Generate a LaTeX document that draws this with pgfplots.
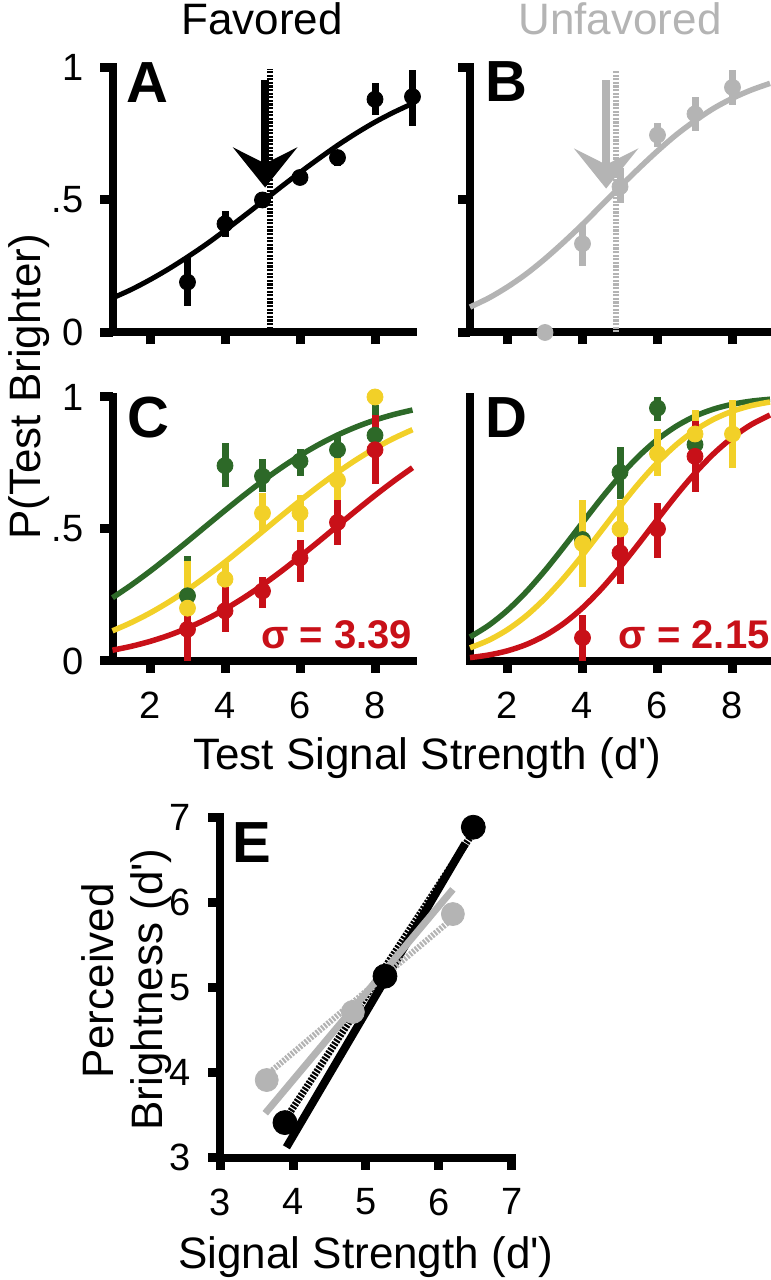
\documentclass[border=0pt]{standalone}
\usepackage{fontspec}
\setmainfont{Liberation Sans}
\usepackage{pgfplots}
\pgfplotsset{compat=1.18}
\usetikzlibrary{arrows.meta}
\definecolor{fgray}{RGB}{180,180,180}
\definecolor{fgreen}{RGB}{45,105,40}
\definecolor{fyellow}{RGB}{242,208,40}
\definecolor{fred}{RGB}{200,16,24}
\pgfplotsset{
  fig/.style={
    scale only axis, anchor=south west, clip=false,
    axis lines=left,
    axis line style={line width=4pt, -, line cap=rect},
    tick align=outside,
    major tick length=6pt,
    tick style={line width=4.5pt, black},
    tick label style={font=\fontsize{19}{19}\selectfont},
    xticklabel style={yshift=-6pt},
    yticklabel style={xshift=-5pt},
    /pgf/number format/assume math mode=true,
    xmin=1, xmax=9, ymin=0, ymax=1,
    xtick={2,4,6,8}, ytick={0,0.5,1},
    yticklabels={0,.5,1},
  },
  ebar/.style={only marks, mark=*, mark size=4pt,
    error bars/.cd, y dir=both, y explicit, error mark=none,
    error bar style={line width=3.5pt, #1}},
  fit/.style={#1, line width=2.75pt, smooth},
  ladder/.style={line width=3pt, dash pattern=on 1.1pt off 0.7pt},
}
\begin{document}
\begin{tikzpicture}
\path[use as bounding box] (0,0) rectangle (385.5pt,640pt);
% ---------- A ----------
\begin{axis}[fig, at={(56.25pt,473.75pt)}, width=150pt, height=132.5pt, xticklabels={}]
\addplot[fit=black, line width=2.5pt] coordinates {(1,0.130)(1.5,0.162)(2,0.199)(2.5,0.240)(3,0.285)(3.5,0.333)(4,0.385)(4.5,0.439)(5,0.494)(5.5,0.550)(6,0.604)(6.5,0.656)(7,0.706)(7.5,0.752)(8,0.794)(8.5,0.831)(9,0.864)};
\addplot[black, ebar=black] coordinates {
 (3,0.19) +- (0,0.09)
 (4,0.41) +- (0,0.05)
 (5,0.50) +- (0,0.03)
 (6,0.585) +- (0,0.03)
 (7,0.66) +- (0,0.03)
 (8,0.88) +- (0,0.06)
 (9,0.89) += (0,0.10) -= (0,0.11)};
\addplot[black, line width=4pt, -{Stealth[length=20pt, width=32pt, inset=8pt]}] coordinates {(5.07,0.951)(5.07,0.547)};
\addplot[black, ladder] coordinates {(5.2,0)(5.2,0.996)};
\end{axis}
% ---------- B ----------
\begin{axis}[fig, at={(235pt,473.75pt)}, width=150pt, height=132.5pt, xticklabels={}, yticklabels={}]
\addplot[fit=fgray] coordinates {(1,0.096)(1.5,0.130)(2,0.172)(2.5,0.221)(3,0.278)(3.5,0.341)(4,0.408)(4.5,0.479)(5,0.550)(5.5,0.619)(6,0.685)(6.5,0.746)(7,0.799)(7.5,0.846)(8,0.884)(8.5,0.915)(9,0.940)};
\addplot[fgray, ebar=fgray] coordinates {
 (3,0.0) +- (0,0)
 (4,0.335) += (0,0.075) -= (0,0.085)
 (5,0.55) += (0,0.07) -= (0,0.06)
 (6,0.745) +- (0,0.045)
 (7,0.825) +- (0,0.065)
 (8,0.925) +- (0,0.065)};
\addplot[fgray, line width=4pt, -{Stealth[length=20pt, width=32pt, inset=8pt]}] coordinates {(4.63,0.951)(4.63,0.543)};
\addplot[fgray, ladder] coordinates {(4.89,0)(4.89,0.99)};
\end{axis}
% ---------- C ----------
\begin{axis}[fig, at={(56.25pt,309.5pt)}, width=150pt, height=132pt]
\addplot[fit=fgreen] coordinates {(1,0.2395)(1.5,0.2877)(2,0.3398)(2.5,0.3955)(3,0.4530)(3.5,0.5118)(4,0.5702)(4.5,0.6272)(5,0.6815)(5.5,0.7321)(6,0.7785)(6.5,0.8197)(7,0.8559)(7.5,0.8867)(8,0.9126)(8.5,0.9337)(9,0.9507)};
\addplot[fgreen, ebar=fgreen] coordinates {
 (3,0.247) +- (0,0.15)
 (4,0.74) += (0,0.085) -= (0,0.08)
 (5,0.70) += (0,0.065) -= (0,0.06)
 (6,0.757) += (0,0.045) -= (0,0.055)
 (7,0.80) += (0,0.055) -= (0,0.06)
 (8,0.855) += (0,0.115) -= (0,0.095)};
\addplot[fit=fyellow] coordinates {(1,0.1143)(1.5,0.1455)(2,0.1817)(2.5,0.2233)(3,0.2697)(3.5,0.3206)(4,0.3749)(4.5,0.4321)(5,0.4904)(5.5,0.5493)(6,0.6069)(6.5,0.6624)(7,0.7143)(7.5,0.7624)(8,0.8054)(8.5,0.8435)(9,0.8762)};
\addplot[fyellow, ebar=fyellow] coordinates {
 (3,0.20) += (0,0.18) -= (0,0.10)
 (4,0.31) += (0,0.06) -= (0,0.04)
 (5,0.56) += (0,0.075) -= (0,0.07)
 (6,0.56) +- (0,0.07)
 (7,0.685) +- (0,0.085)
 (8,1.0) +- (0,0)};
\addplot[fit=fred] coordinates {(1,0.0409)(1.5,0.0556)(2,0.0742)(2.5,0.0971)(3,0.1250)(3.5,0.1579)(4,0.1962)(4.5,0.2395)(5,0.2877)(5.5,0.3398)(6,0.3955)(6.5,0.4530)(7,0.5118)(7.5,0.5702)(8,0.6272)(8.5,0.6815)(9,0.7321)};
\addplot[fred, ebar=fred] coordinates {
 (3,0.12) +- (0,0.12)
 (4,0.19) += (0,0.09) -= (0,0.08)
 (5,0.265) += (0,0.055) -= (0,0.065)
 (6,0.39) += (0,0.07) -= (0,0.09)
 (7,0.525) +- (0,0.085)
 (8,0.80) +- (0,0.13)};
\node[anchor=base east, inner sep=0pt, text=fred, font=\bfseries\fontsize{20}{20}\selectfont] at (axis cs:9,0.046) {σ = 3.39};
\end{axis}
% ---------- D ----------
\begin{axis}[fig, at={(235pt,309.5pt)}, width=150pt, height=132pt, ytick=\empty]
\addplot[fit=fgreen] coordinates {(1,0.0909)(1.5,0.1352)(2,0.1922)(2.5,0.2620)(3,0.3428)(3.5,0.4317)(4,0.5241)(4.5,0.6153)(5,0.7005)(5.5,0.7758)(6,0.8391)(6.5,0.8893)(7,0.9273)(7.5,0.9543)(8,0.9726)(8.5,0.9843)(9,0.9915)};
\addplot[fgreen, ebar=fgreen] coordinates {
 (4,0.46) +- (0,0.05)
 (5,0.715) += (0,0.095) -= (0,0.10)
 (6,0.958) += (0,0.042) -= (0,0.048)
 (7,0.82) +- (0,0.04)};
\addplot[fit=fyellow] coordinates {(1,0.0498)(1.5,0.0787)(2,0.1188)(2.5,0.1713)(3,0.2370)(3.5,0.3142)(4,0.4009)(4.5,0.4926)(5,0.5847)(5.5,0.6726)(6,0.7514)(6.5,0.8191)(7,0.8737)(7.5,0.9157)(8,0.9462)(8.5,0.9673)(9,0.9810)};
\addplot[fyellow, ebar=fyellow] coordinates {
 (4,0.445) +- (0,0.165)
 (5,0.50) += (0,0.11) -= (0,0.10)
 (6,0.785) += (0,0.095) -= (0,0.085)
 (7,0.86) +- (0,0.09)
 (8,0.86) +- (0,0.13)};
\addplot[fit=fred] coordinates {(1,0.0128)(1.5,0.0228)(2,0.0386)(2.5,0.0624)(3,0.0964)(3.5,0.1423)(4,0.2013)(4.5,0.2726)(5,0.3550)(5.5,0.4444)(6,0.5371)(6.5,0.6278)(7,0.7116)(7.5,0.7855)(8,0.8469)(8.5,0.8954)(9,0.9316)};
\addplot[fred, ebar=fred] coordinates {
 (4,0.088) += (0,0.085) -= (0,0.088)
 (5,0.41) += (0,0.115) -= (0,0.12)
 (6,0.50) += (0,0.10) -= (0,0.11)
 (7,0.775) +- (0,0.135)};
\node[anchor=base east, inner sep=0pt, text=fred, font=\bfseries\fontsize{20}{20}\selectfont] at (axis cs:9,0.046) {σ = 2.15};
\end{axis}
% ---------- E ----------
\begin{axis}[fig, at={(110pt,61.25pt)}, width=146pt, height=170.25pt,
  xmin=3, xmax=7, ymin=3, ymax=7, xtick={3,4,5,6,7}, ytick={3,4,5,6,7}, yticklabels={3,4,5,6,7}]
\addplot[black, line width=4pt] coordinates {(3.91,3.12)(6.36,6.69)};
\addplot[black, line width=3.5pt, dash pattern=on 1.1pt off 0.7pt] coordinates {(3.89,3.44)(6.47,6.82)};
\addplot[black, only marks, mark=*, mark size=6pt] coordinates {(3.89,3.41)(5.26,5.13)(6.47,6.88)};
\addplot[fgray, ladder] coordinates {(3.64,3.97)(6.19,5.81)};
\addplot[fgray, line width=3.5pt] coordinates {(3.62,3.52)(6.19,6.15)};
\addplot[fgray, only marks, mark=*, mark size=5.75pt] coordinates {(3.64,3.91)(4.82,4.71)(6.19,5.86)};
\end{axis}
% ---------- texts ----------
\node[anchor=base, inner sep=0pt, font=\fontsize{22}{22}\selectfont] at (131pt,622.5pt) {Favored};
\node[anchor=base, inner sep=0pt, text=fgray, font=\fontsize{22}{22}\selectfont] at (310pt,622.5pt) {Unfavored};
\node[anchor=base, inner sep=0pt, rotate=90, font=\fontsize{22}{22}\selectfont] at (20pt,446.5pt) {P(Test Brighter)};
\node[anchor=base, inner sep=0pt, font=\fontsize{22}{22}\selectfont] at (213.75pt,255pt) {Test Signal Strength (d\textquotesingle)};
\node[anchor=base, inner sep=0pt, rotate=90, font=\fontsize{22}{22}\selectfont] at (56.5pt,149.5pt) {Perceived};
\node[anchor=base, inner sep=0pt, rotate=90, font=\fontsize{22}{22}\selectfont] at (81pt,145.25pt) {Brightness (d\textquotesingle)};
\node[anchor=base, inner sep=0pt, font=\fontsize{22}{22}\selectfont] at (183pt,5.5pt) {Signal Strength (d\textquotesingle)};
\node[anchor=base west, inner sep=0pt, font=\bfseries\fontsize{29}{29}\selectfont] at (63pt,588.5pt) {A};
\node[anchor=base west, inner sep=0pt, font=\bfseries\fontsize{29}{29}\selectfont] at (242.5pt,589pt) {B};
\node[anchor=base west, inner sep=0pt, font=\bfseries\fontsize{29}{29}\selectfont] at (63.5pt,421pt) {C};
\node[anchor=base west, inner sep=0pt, font=\bfseries\fontsize{29}{29}\selectfont] at (242.5pt,421pt) {D};
\node[anchor=base west, inner sep=0pt, font=\bfseries\fontsize{29}{29}\selectfont] at (116pt,208.5pt) {E};
\end{tikzpicture}
\end{document}
